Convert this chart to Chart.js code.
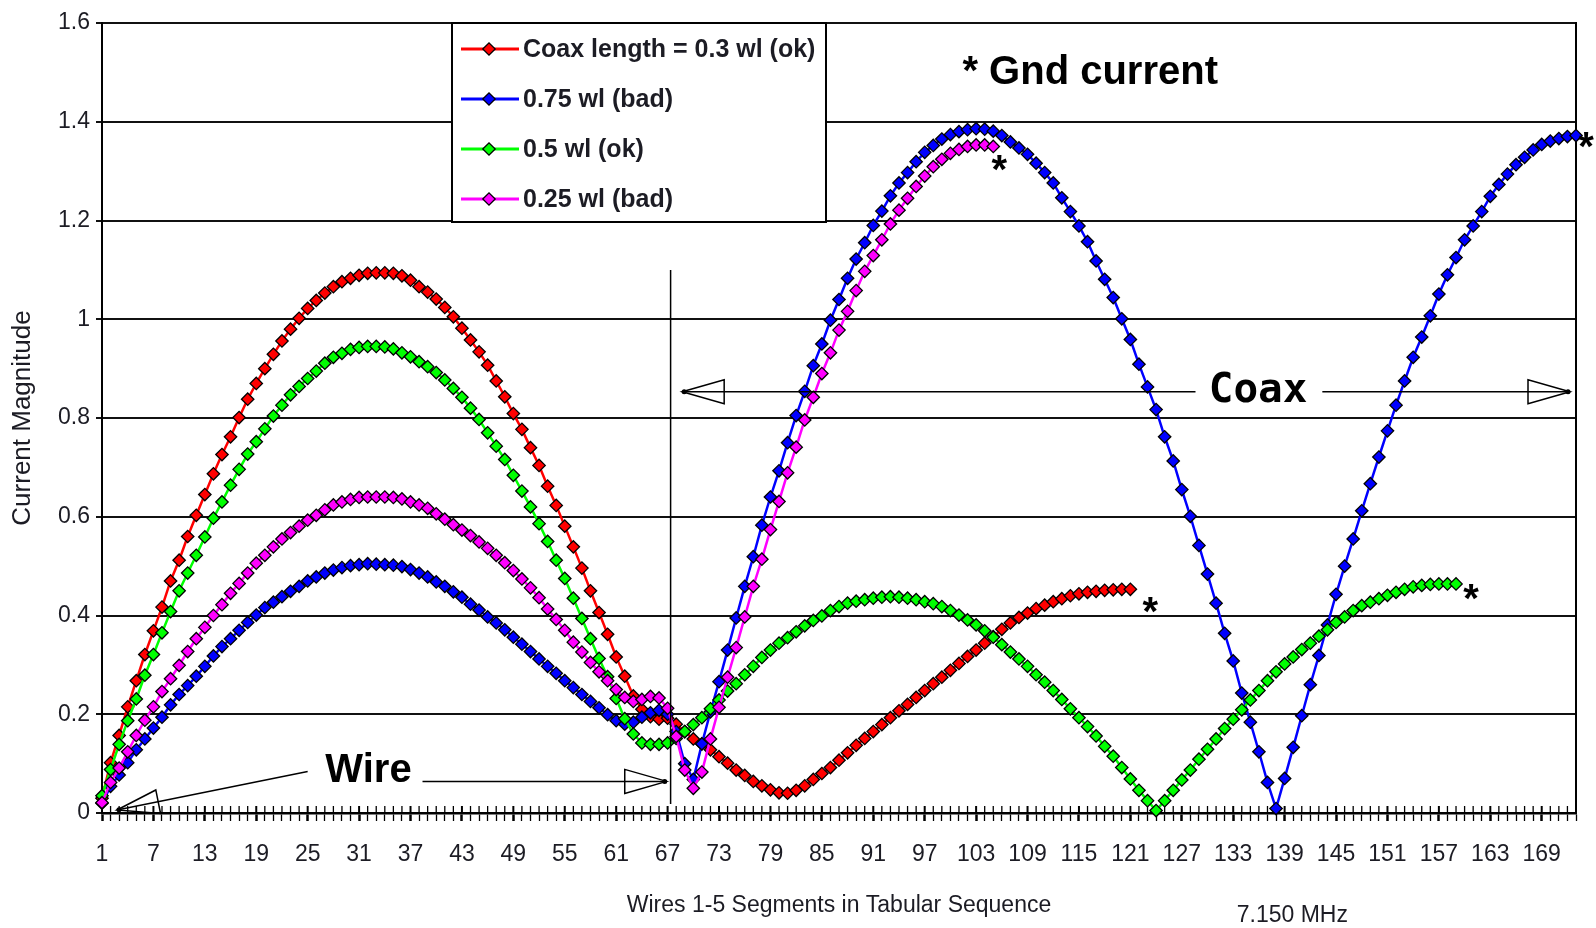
<!DOCTYPE html>
<html>
<head>
<meta charset="utf-8">
<title>Current Magnitude along wires and coax</title>
<script src="https://cdn.jsdelivr.net/npm/chart.js@4.4.1/dist/chart.umd.min.js"></script>
<style>
  html, body { margin: 0; padding: 0; background: #ffffff; }
  #wrap { position: relative; width: 1596px; height: 928px; }
</style>
</head>
<body>
<div id="wrap"><canvas id="chart" width="1596" height="928"></canvas></div>
<script>
// Segment numbers along the x axis (wire 1-5 segments followed by the coax)
const segments = Array.from({ length: 173 }, (_, i) => String(i + 1));

// Current magnitude per segment for each coax length
const coax03 = [
  0.030,0.102,0.157,0.215,0.268,0.321,0.369,0.417,0.470,0.512,
  0.560,0.603,0.645,0.687,0.726,0.762,0.801,0.838,0.870,0.900,
  0.929,0.956,0.980,1.002,1.022,1.038,1.053,1.066,1.076,1.083,
  1.089,1.093,1.094,1.094,1.093,1.088,1.079,1.066,1.055,1.041,
  1.024,1.005,0.982,0.958,0.934,0.907,0.875,0.843,0.809,0.777,
  0.740,0.704,0.662,0.623,0.581,0.539,0.496,0.450,0.406,0.362,
  0.316,0.277,0.237,0.210,0.195,0.190,0.192,0.180,0.165,0.150,
  0.140,0.128,0.114,0.101,0.087,0.076,0.064,0.055,0.047,0.041,
  0.040,0.046,0.055,0.068,0.080,0.092,0.107,0.122,0.137,0.151,
  0.165,0.179,0.193,0.207,0.220,0.234,0.248,0.262,0.275,0.289,
  0.303,0.317,0.330,0.344,0.357,0.372,0.385,0.396,0.405,0.414,
  0.421,0.428,0.434,0.440,0.444,0.447,0.449,0.451,0.452,0.453,
  0.453
];
const coax075 = [
  0.020,0.054,0.077,0.102,0.128,0.150,0.172,0.194,0.219,0.240,
  0.258,0.277,0.297,0.318,0.337,0.353,0.370,0.386,0.401,0.416,
  0.427,0.438,0.449,0.459,0.470,0.478,0.486,0.492,0.497,0.501,
  0.503,0.505,0.504,0.503,0.502,0.499,0.493,0.486,0.478,0.468,
  0.459,0.448,0.437,0.423,0.411,0.397,0.385,0.371,0.356,0.342,
  0.327,0.312,0.297,0.283,0.268,0.254,0.240,0.226,0.213,0.199,
  0.187,0.180,0.184,0.194,0.203,0.208,0.200,0.165,0.100,0.068,
  0.140,0.205,0.266,0.330,0.395,0.459,0.519,0.583,0.640,0.693,
  0.750,0.805,0.854,0.906,0.950,0.998,1.040,1.083,1.122,1.155,
  1.190,1.219,1.250,1.276,1.297,1.319,1.338,1.352,1.365,1.374,
  1.380,1.384,1.386,1.385,1.381,1.372,1.359,1.347,1.334,1.316,
  1.297,1.276,1.246,1.218,1.189,1.157,1.118,1.081,1.044,1.001,
  0.959,0.909,0.863,0.817,0.762,0.713,0.655,0.601,0.542,0.484,
  0.425,0.364,0.308,0.243,0.184,0.124,0.062,0.009,0.070,0.133,
  0.197,0.260,0.319,0.381,0.443,0.500,0.555,0.612,0.667,0.721,
  0.774,0.826,0.875,0.923,0.964,1.007,1.051,1.090,1.125,1.161,
  1.189,1.218,1.249,1.273,1.294,1.313,1.328,1.343,1.354,1.361,
  1.366,1.370,1.372
];
const coax05 = [
  0.035,0.088,0.139,0.187,0.231,0.279,0.321,0.365,0.408,0.450,
  0.486,0.522,0.559,0.597,0.630,0.664,0.696,0.727,0.752,0.778,
  0.804,0.826,0.847,0.864,0.880,0.895,0.911,0.923,0.931,0.939,
  0.943,0.945,0.945,0.944,0.940,0.932,0.924,0.914,0.904,0.892,
  0.877,0.860,0.842,0.820,0.797,0.770,0.743,0.716,0.684,0.652,
  0.620,0.586,0.550,0.512,0.475,0.435,0.394,0.353,0.313,0.276,
  0.232,0.191,0.160,0.142,0.139,0.139,0.142,0.151,0.165,0.179,
  0.193,0.211,0.229,0.247,0.262,0.280,0.297,0.315,0.330,0.344,
  0.355,0.367,0.379,0.390,0.399,0.410,0.418,0.425,0.429,0.432,
  0.435,0.437,0.438,0.437,0.435,0.432,0.428,0.424,0.418,0.410,
  0.401,0.391,0.381,0.369,0.356,0.341,0.326,0.312,0.297,0.280,
  0.265,0.248,0.230,0.211,0.193,0.175,0.156,0.135,0.115,0.092,
  0.069,0.046,0.025,0.005,0.025,0.046,0.067,0.087,0.109,0.129,
  0.150,0.171,0.190,0.209,0.229,0.248,0.268,0.286,0.302,0.316,
  0.331,0.344,0.358,0.371,0.386,0.397,0.410,0.420,0.427,0.434,
  0.441,0.447,0.453,0.458,0.461,0.463,0.464,0.464,0.464
];
const coax025 = [
  0.021,0.062,0.091,0.124,0.157,0.188,0.215,0.246,0.272,0.299,
  0.327,0.353,0.376,0.400,0.422,0.445,0.465,0.486,0.506,0.522,
  0.539,0.555,0.568,0.581,0.593,0.603,0.614,0.624,0.630,0.635,
  0.639,0.640,0.640,0.640,0.639,0.636,0.630,0.624,0.617,0.606,
  0.595,0.584,0.573,0.562,0.549,0.536,0.522,0.507,0.491,0.474,
  0.456,0.436,0.413,0.392,0.370,0.346,0.326,0.305,0.286,0.268,
  0.250,0.234,0.226,0.230,0.236,0.233,0.212,0.155,0.087,0.050,
  0.083,0.150,0.214,0.275,0.335,0.397,0.459,0.514,0.574,0.631,
  0.689,0.741,0.796,0.842,0.890,0.932,0.978,1.016,1.058,1.097,
  1.129,1.161,1.193,1.221,1.245,1.269,1.290,1.309,1.324,1.336,
  1.344,1.350,1.353,1.353,1.350
];

const seriesNames  = ['Coax length = 0.3 wl (ok)', '0.75 wl (bad)', '0.5 wl (ok)', '0.25 wl (bad)'];
const seriesValues = [coax03, coax075, coax05, coax025];
const seriesColors = ['#ff0000', '#0000ff', '#00ff00', '#ff00ff'];

// Pick a narrow sans if the system has one, otherwise the regular face
function hasFont(name) {
  const c = document.createElement('canvas').getContext('2d');
  const s = 'mmmmmwwwwwiiiiilll 0123456789 Segments';
  let diff = false;
  ['monospace', 'serif'].forEach(fb => {
    c.font = '40px ' + fb; const a = c.measureText(s).width;
    c.font = '40px "' + name + '", ' + fb; const b = c.measureText(s).width;
    if (Math.abs(a - b) > 0.5) diff = true;
  });
  return diff;
}
const narrow = hasFont('Liberation Sans Narrow');
const textFamily = narrow ? "'Liberation Sans Narrow', 'Liberation Sans', Arial, sans-serif"
                          : "'Liberation Sans', Arial, sans-serif";
const textSize = narrow ? 28 : 23;
const legendSize = narrow ? 30 : 25;
const inkColor = '#1c1c24';
const markerRadius = 6.2;

const datasets = seriesNames.map((name, i) => ({
  label: name,
  data: seriesValues[i],
  borderColor: seriesColors[i],
  backgroundColor: seriesColors[i],
  pointBackgroundColor: seriesColors[i],
  pointBorderColor: '#000000',
  pointBorderWidth: 1.3,
  pointStyle: 'rectRot',
  pointRadius: markerRadius,
  borderWidth: 2.5,
  tension: 0,
  clip: false,
  order: seriesNames.length - 1 - i
}));

function drawArrow(ctx, x1, y1, x2, y2) {
  const ang = Math.atan2(y2 - y1, x2 - x1);
  const L = 42, W = 12;
  ctx.beginPath(); ctx.moveTo(x1, y1); ctx.lineTo(x2, y2); ctx.stroke();
  const bx = x2 - L * Math.cos(ang), by = y2 - L * Math.sin(ang);
  const nx = -Math.sin(ang), ny = Math.cos(ang);
  ctx.beginPath();
  ctx.moveTo(x2, y2);
  ctx.lineTo(bx + nx * W, by + ny * W);
  ctx.lineTo(bx - nx * W, by - ny * W);
  ctx.closePath();
  ctx.stroke();
  ctx.beginPath();
  ctx.arc(x2 - 2 * Math.cos(ang), y2 - 2 * Math.sin(ang), 2.5, 0, Math.PI * 2);
  ctx.fill();
}

const overlay = {
  id: 'overlay',
  beforeDatasetsDraw(chart) {
    const { ctx, chartArea: a, scales: { x } } = chart;
    ctx.save();
    ctx.strokeStyle = '#000';
    // inner half of the category tick marks
    for (let i = 0; i < segments.length; i++) {
      const px = x.getPixelForTick(i);
      ctx.lineWidth = i % 6 === 0 ? 2 : 1.3;
      ctx.beginPath(); ctx.moveTo(px, a.bottom); ctx.lineTo(px, a.bottom - 7); ctx.stroke();
    }
    // right-hand frame of the plot area
    ctx.lineWidth = 2;
    ctx.beginPath(); ctx.moveTo(a.right, a.top - 1); ctx.lineTo(a.right, a.bottom); ctx.stroke();
    ctx.restore();
  },
  afterDraw(chart) {
    const { ctx, chartArea: a, scales: { x, y } } = chart;
    ctx.save();
    ctx.strokeStyle = '#000';
    ctx.fillStyle = '#000';

    // boundary between the wire segments and the coax
    ctx.lineWidth = 1.5;
    const sx = x.getPixelForValue(66.35);
    ctx.beginPath(); ctx.moveTo(sx, y.getPixelForValue(1.1)); ctx.lineTo(sx, y.getPixelForValue(0.018)); ctx.stroke();

    // "Wire" span
    ctx.lineWidth = 1.5;
    drawArrow(ctx, x.getPixelForValue(24.0), y.getPixelForValue(0.084), x.getPixelForValue(1.75), y.getPixelForValue(0.006));
    drawArrow(ctx, x.getPixelForValue(37.4), y.getPixelForValue(0.064), x.getPixelForValue(65.9), y.getPixelForValue(0.064));
    ctx.font = "bold 40px 'Liberation Sans', Arial, sans-serif";
    ctx.textAlign = 'center';
    ctx.textBaseline = 'middle';
    ctx.fillText('Wire', x.getPixelForValue(31.1), y.getPixelForValue(0.085));

    // "Coax" span
    drawArrow(ctx, x.getPixelForValue(127.6), y.getPixelForValue(0.853), x.getPixelForValue(67.7), y.getPixelForValue(0.853));
    drawArrow(ctx, x.getPixelForValue(142.4), y.getPixelForValue(0.853), x.getPixelForValue(171.3), y.getPixelForValue(0.853));
    ctx.font = "bold 41px 'DejaVu Sans Mono', 'Liberation Mono', monospace";
    ctx.fillText('Coax', x.getPixelForValue(134.9), y.getPixelForValue(0.853));

    // ground current note
    ctx.font = "bold 40px 'Liberation Sans', Arial, sans-serif";
    ctx.textAlign = 'left';
    ctx.fillText('* Gnd current', x.getPixelForValue(100.4), y.getPixelForValue(1.499));

    // asterisks at the ground end of each coax
    const starOffsets = [[20, 13], [10, 1], [15, 5], [6, 14]];
    ctx.font = "bold 40px 'Liberation Sans', Arial, sans-serif";
    ctx.textAlign = 'center';
    ctx.textBaseline = 'alphabetic';
    chart.data.datasets.forEach((ds, i) => {
      const pts = chart.getDatasetMeta(i).data;
      const p = pts[pts.length - 1];
      ctx.fillText('*', p.x + starOffsets[i][0], p.y + starOffsets[i][1] + 23);
    });

    // frequency note
    ctx.font = textSize + 'px ' + textFamily;
    ctx.fillStyle = inkColor;
    ctx.textBaseline = 'middle';
    ctx.fillText('7.150 MHz', x.getPixelForValue(138.9), chart.height - 12);

    // legend box
    const lx = 452, ly = a.top, lw = 374, lh = 199;
    ctx.fillStyle = '#ffffff';
    ctx.fillRect(lx, ly, lw, lh);
    ctx.strokeStyle = '#000';
    ctx.lineWidth = 2;
    ctx.strokeRect(lx, ly, lw, lh);
    chart.data.datasets.forEach((ds, i) => {
      const cy = ly + 26 + i * 50;
      ctx.strokeStyle = ds.borderColor;
      ctx.lineWidth = 3;
      ctx.beginPath(); ctx.moveTo(lx + 9, cy); ctx.lineTo(lx + 67, cy); ctx.stroke();
      ctx.fillStyle = ds.pointBackgroundColor;
      ctx.strokeStyle = '#000';
      ctx.lineWidth = 1.3;
      Chart.helpers.drawPoint(ctx, { pointStyle: 'rectRot', radius: markerRadius, borderWidth: 1.3 }, lx + 37, cy);
      ctx.fillStyle = inkColor;
      ctx.font = 'bold ' + legendSize + 'px ' + textFamily;
      ctx.textAlign = 'left';
      ctx.textBaseline = 'middle';
      ctx.fillText(ds.label, lx + 71, cy + 1);
    });
    ctx.restore();
  }
};

new Chart(document.getElementById('chart'), {
  type: 'line',
  data: { labels: segments, datasets },
  options: {
    responsive: false,
    devicePixelRatio: 1,
    animation: false,
    events: [],
    layout: { padding: { top: 23, right: 19, bottom: 0, left: 0 } },
    plugins: { legend: { display: false }, tooltip: { enabled: false } },
    scales: {
      x: {
        type: 'category',
        offset: false,
        grid: {
          display: true, drawOnChartArea: false, drawTicks: true, tickLength: 8,
          color: '#000', tickColor: '#000',
          tickWidth: c => (c.index % 6 === 0 ? 2.5 : 1.3)
        },
        border: { display: true, color: '#000', width: 2.5 },
        ticks: {
          autoSkip: false, maxRotation: 0, minRotation: 0,
          padding: narrow ? 17 : 20,
          color: inkColor,
          font: { family: textFamily, size: textSize },
          callback: function (v, i) { return i % 6 === 0 ? this.getLabelForValue(v) : ''; }
        },
        title: {
          display: true, text: 'Wires 1-5 Segments in Tabular Sequence', color: inkColor,
          font: { family: textFamily, size: textSize },
          padding: { top: 0, bottom: narrow ? 6 : 9 }
        },
        afterFit: s => { s.height = 115; }
      },
      y: {
        min: 0, max: 1.6,
        grid: { color: '#111', lineWidth: 2, drawTicks: true, tickLength: 6, tickColor: '#111', tickWidth: 2 },
        border: { display: true, color: '#000', width: 2 },
        ticks: {
          stepSize: 0.2, padding: 6, color: inkColor,
          font: { family: textFamily, size: textSize },
          callback: v => String(Math.round(v * 10) / 10)
        },
        title: {
          display: true, text: 'Current Magnitude', color: inkColor,
          font: { family: "'Liberation Sans', Arial, sans-serif", size: 26 },
          padding: { top: 7, bottom: 0 }
        },
        afterFit: s => { s.width = 102; }
      }
    }
  },
  plugins: [overlay]
});
</script>
</body>
</html>
